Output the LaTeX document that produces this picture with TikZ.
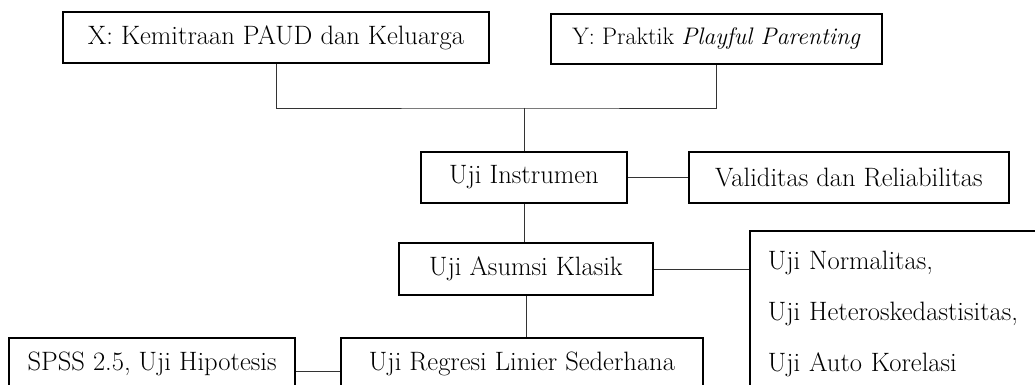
\documentclass[tikz,border=0pt]{standalone}
\usetikzlibrary{positioning}

\begin{document}
\begin{tikzpicture}[
    x=0.025cm, y=-0.025cm,
    box/.style={draw, rectangle, line width=1.3pt, minimum height=1.275cm, inner sep=0pt, align=center, font=\fontsize{18.9}{22}\selectfont},
    listbox/.style={draw, rectangle, line width=1.3pt, anchor=north west, text width=7cm, align=left, inner xsep=0.45cm, inner ysep=14pt, text depth=4.5cm, font=\fontsize{18.9}{22}\selectfont},
    link/.style={draw=black!80, line width=0.7pt}
]
\useasboundingbox (0,0) rectangle (1035,385);

\node[box, minimum width=10.65cm] (xvar) at (276,37.5) {X: Kemitraan PAUD dan Keluarga};
\node[box, minimum width=8.275cm, minimum height=1.25cm, font=\fontsize{17}{20}\selectfont] (yvar) at (716.5,39) {Y: Praktik \emph{Playful Parenting}};
\coordinate (join) at (524,108);

\node[box, minimum width=5.15cm] (instrumen) at (524,177.5) {Uji Instrumen};
\node[box, minimum width=8cm, right=1.5cm of instrumen] (validitas) {Validitas dan Reliabilitas};

\node[box, minimum width=6.35cm, minimum height=1.3cm] (asumsi) at (526,269) {Uji Asumsi Klasik};
\node[listbox] (normalitas) at (749,230) {Uji Normalitas,\\[14.5pt] Uji Heteroskedastisitas,\\[14.5pt] Uji Auto Korelasi};

\node[box, minimum width=9.05cm] (regresi) at (522,363.5) {Uji Regresi Linier Sederhana};
\node[box, minimum width=7.15cm, left=1.1cm of regresi] (spss) {SPSS 2.5, Uji Hipotesis};

\draw[link] (xvar.south) |- (join) -| (yvar.south);
\draw[link] (join) -- (instrumen.north);
\draw[link] (instrumen.east) -- (instrumen.east -| validitas.west);
\draw[link] (instrumen.south) -- (instrumen.south |- asumsi.north);
\draw[link] (asumsi.east) -- (asumsi.east -| normalitas.west);
\draw[link] (asumsi.south) -- (asumsi.south |- regresi.north);
\draw[link] ([yshift=-0.2cm]spss.east) -- ([yshift=-0.2cm]spss.east -| regresi.west);

\end{tikzpicture}
\end{document}
